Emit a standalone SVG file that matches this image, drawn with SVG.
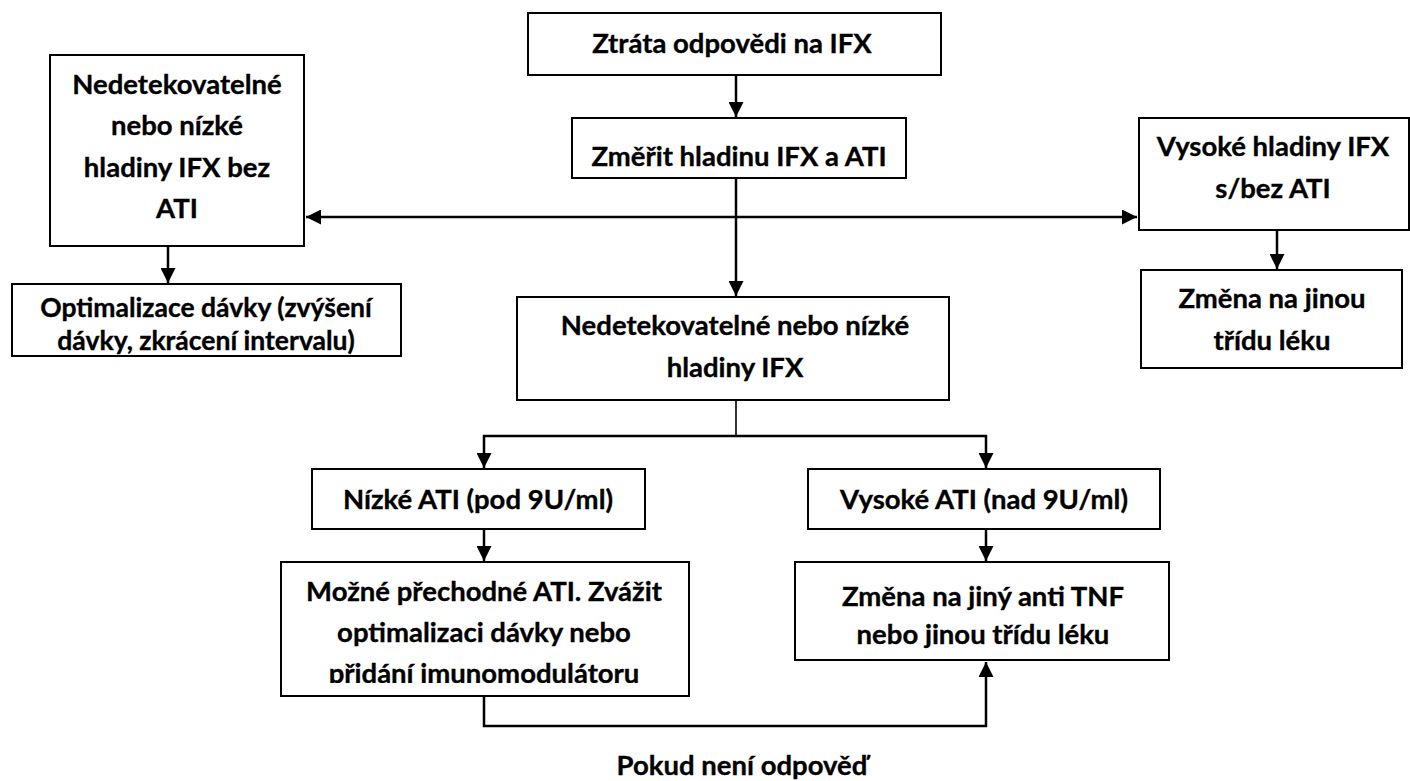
<svg xmlns="http://www.w3.org/2000/svg" width="1410" height="781" viewBox="0 0 1410 781">
<style>
.box{fill:#fff;stroke:#000;stroke-width:2}
.t{font-family:Lato,"Liberation Sans",sans-serif;font-weight:bold;font-size:27.5px;fill:#000;stroke:#000;stroke-width:0.35;text-anchor:middle}
.s{font-size:26.5px}
.c{fill:none;stroke:#000;stroke-width:2.5}
.thin{fill:none;stroke:#000;stroke-width:1.6}
</style>
<defs>
<marker id="ah" viewBox="0 0 10 10" refX="10" refY="5" markerWidth="6" markerHeight="6" orient="auto-start-reverse" markerUnits="strokeWidth">
<path d="M0,0 L10,5 L0,10 z" fill="#000"/>
</marker>
<clipPath id="clipM"><rect x="270" y="555" width="430" height="128"/></clipPath>
</defs>
<rect width="1410" height="781" fill="#fff"/>
<g id="connectors">
<line class="c" x1="736" y1="75" x2="736" y2="117" marker-end="url(#ah)"/>
<line class="c" x1="736" y1="178" x2="736" y2="296" marker-end="url(#ah)"/>
<line class="c" x1="306" y1="217" x2="1137" y2="217" marker-start="url(#ah)" marker-end="url(#ah)"/>
<line class="c" x1="168" y1="246" x2="168" y2="283" marker-end="url(#ah)"/>
<line class="c" x1="1277" y1="230" x2="1277" y2="269" marker-end="url(#ah)"/>
<polyline class="thin" points="736,400 736,436"/>
<polyline class="c" points="484,468 484,436 986,436 986,468" marker-start="url(#ah)" marker-end="url(#ah)"/>
<line class="c" x1="484" y1="529" x2="484" y2="561" marker-end="url(#ah)"/>
<line class="c" x1="986" y1="529" x2="986" y2="561" marker-end="url(#ah)"/>
<polyline class="c" points="484,696 484,726 986,726 986,662" marker-end="url(#ah)"/>
</g>
<g id="n1"><rect class="box" x="528" y="13" width="413" height="62"/><text class="t" x="732" y="53">Ztráta odpovědi na IFX</text></g>
<g id="n2"><rect class="box" x="572" y="118" width="334" height="60"/><text class="t" x="739" y="166">Změřit hladinu IFX a ATI</text></g>
<g id="n3"><rect class="box" x="50" y="55" width="254" height="191"/>
<text class="t" x="177" y="94">Nedetekovatelné</text>
<text class="t" x="177" y="135">nebo nízké</text>
<text class="t" x="177" y="177">hladiny IFX bez</text>
<text class="t" x="177" y="218">ATI</text></g>
<g id="n4"><rect class="box" x="12" y="284" width="389" height="72"/>
<text class="t s" x="206" y="317">Optimalizace dávky (zvýšení</text>
<text class="t s" x="206" y="350">dávky, zkrácení intervalu)</text></g>
<g id="n5"><rect class="box" x="1139" y="118" width="270" height="112"/>
<text class="t" x="1273" y="156">Vysoké hladiny IFX</text>
<text class="t" x="1273" y="198">s/bez ATI</text></g>
<g id="n6"><rect class="box" x="1141" y="270" width="261" height="98"/>
<text class="t" x="1272" y="308">Změna na jinou</text>
<text class="t" x="1272" y="350">třídu léku</text></g>
<g id="n7"><rect class="box" x="517" y="297" width="432" height="103"/>
<text class="t" x="735" y="335">Nedetekovatelné nebo nízké</text>
<text class="t" x="735" y="377">hladiny IFX</text></g>
<g id="n8"><rect class="box" x="312" y="469" width="333" height="60"/>
<text class="t" x="478" y="509">Nízké ATI (pod 9U/ml)</text></g>
<g id="n9"><rect class="box" x="808" y="469" width="352" height="60"/>
<text class="t" x="984" y="509">Vysoké ATI (nad 9U/ml)</text></g>
<g id="n10"><rect class="box" x="281" y="562" width="408" height="134"/>
<g clip-path="url(#clipM)">
<text class="t" x="484" y="601">Možné přechodné ATI. Zvážit</text>
<text class="t" x="484" y="642">optimalizaci dávky nebo</text>
<text class="t" x="484" y="683">přidání imunomodulátoru</text></g></g>
<g id="n11"><rect class="box" x="795" y="562" width="374" height="98"/>
<text class="t" x="983" y="606">Změna na jiný anti TNF</text>
<text class="t" x="983" y="644">nebo jinou třídu léku</text></g>
<g id="label"><text class="t" x="742" y="775">Pokud není odpověď</text></g>
</svg>
